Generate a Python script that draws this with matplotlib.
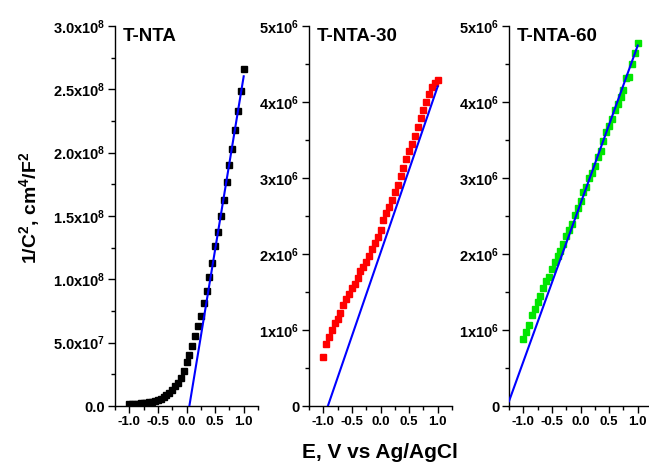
import numpy as np
import matplotlib
matplotlib.use("Agg")
import matplotlib.pyplot as plt
from matplotlib.ticker import MultipleLocator

plt.rcParams["font.family"] = ["Liberation Sans", "DejaVu Sans"]
plt.rcParams["font.weight"] = "bold"
plt.rcParams["mathtext.fontset"] = "custom"
plt.rcParams["mathtext.rm"] = "Liberation Sans:bold"
plt.rcParams["mathtext.default"] = "rm"

# potential (V vs Ag/AgCl), same for all three samples
potential = np.round(np.arange(-1.0, 1.0001, 0.05), 2)

# 1/C^2 values
tnta = [0.013, 0.015, 0.017, 0.019, 0.021, 0.024, 0.027, 0.031, 0.035, 0.041,
        0.048, 0.058, 0.070, 0.085, 0.105, 0.126, 0.155, 0.185, 0.225, 0.280,
        0.345, 0.405, 0.470, 0.550, 0.630, 0.710, 0.810, 0.910, 1.020, 1.130,
        1.260, 1.375, 1.500, 1.630, 1.770, 1.900, 2.030, 2.180, 2.330, 2.490,
        2.660]
tnta = [v * 1e8 for v in tnta]
tnta_30 = [0.65, 0.82, 0.91, 1.00, 1.09, 1.15, 1.23, 1.33, 1.41, 1.48,
           1.55, 1.61, 1.68, 1.77, 1.83, 1.90, 1.97, 2.07, 2.14, 2.23,
           2.32, 2.45, 2.54, 2.62, 2.71, 2.81, 2.91, 3.02, 3.13, 3.25,
           3.35, 3.45, 3.55, 3.67, 3.79, 3.89, 4.00, 4.10, 4.20, 4.25, 4.29]
tnta_30 = [v * 1e6 for v in tnta_30]
tnta_60 = [0.88, 0.97, 1.07, 1.20, 1.27, 1.37, 1.45, 1.55, 1.64, 1.70,
           1.80, 1.90, 1.97, 2.04, 2.13, 2.24, 2.31, 2.40, 2.51, 2.60,
           2.70, 2.81, 2.88, 3.00, 3.06, 3.16, 3.28, 3.35, 3.49, 3.61,
           3.68, 3.77, 3.90, 3.97, 4.07, 4.16, 4.31, 4.33, 4.50, 4.64, 4.77]
tnta_60 = [v * 1e6 for v in tnta_60]

# Mott-Schottky linear fits: (slope, x-intercept, fit start, fit end)
fits = [(2.74e8, 0.05, 0.05, 1.0),
        (2.19e6, -0.92, -0.92, 1.0),
        (2.08e6, -1.28, -1.25, 1.0)]

names = ["T-NTA", "T-NTA-30", "T-NTA-60"]
colors = ["black", "#ff0000", "#00e600"]
ymax = [3.0e8, 5e6, 5e6]
ystep = [5e7, 1e6, 1e6]
ytick_labels = [["0.0", "5.0x10$^{7}$", "1.0x10$^{8}$", "1.5x10$^{8}$",
                 "2.0x10$^{8}$", "2.5x10$^{8}$", "3.0x10$^{8}$"],
                ["0", "1x10$^{6}$", "2x10$^{6}$", "3x10$^{6}$", "4x10$^{6}$", "5x10$^{6}$"],
                ["0", "1x10$^{6}$", "2x10$^{6}$", "3x10$^{6}$", "4x10$^{6}$", "5x10$^{6}$"]]
xtick_labels = ["-1.0", "-0.5", "0.0", "0.5", "1.0"]

fig = plt.figure(figsize=(6.49, 4.73), dpi=100)
lefts = [115 / 649, 309 / 649, 509 / 649]
series = [tnta, tnta_30, tnta_60]

for i in range(3):
    ax = fig.add_axes([lefts[i], 67 / 473, 143 / 649, 380 / 473])
    ax.plot(potential, series[i], "s", color=colors[i], markersize=4.8, zorder=2)
    slope, x0, xa, xb = fits[i]
    xx = np.array([xa, xb])
    ax.plot(xx, slope * (xx - x0), color="#0000ff", lw=1.5, zorder=3)

    ax.set_xlim(-1.25, 1.25)
    ax.set_ylim(0, ymax[i])
    ax.spines["right"].set_visible(False)
    ax.spines["top"].set_visible(False)
    ax.spines["left"].set_linewidth(1.0)
    ax.spines["bottom"].set_linewidth(1.0)

    ax.set_xticks([-1.0, -0.5, 0.0, 0.5, 1.0])
    ax.set_xticklabels(xtick_labels)
    ax.xaxis.set_minor_locator(MultipleLocator(0.25))
    ax.set_yticks(np.arange(len(ytick_labels[i])) * ystep[i])
    ax.set_yticklabels(ytick_labels[i])
    ax.yaxis.set_minor_locator(MultipleLocator(ystep[i] / 2))
    ax.tick_params(which="major", length=5, width=1, labelsize=9.5, pad=2)
    ax.tick_params(axis="y", which="major", labelsize=10.5)
    ax.tick_params(which="minor", length=3, width=1)
    for lab in ax.get_xticklabels() + ax.get_yticklabels():
        lab.set_fontweight("bold")

    ax.text(0.056, 0.972, names[i], transform=ax.transAxes, fontsize=13.5,
            fontweight="bold", va="center", ha="left")

fig.text(30 / 649, 1 - 208 / 473, "1/C$^{2}$, cm$^{4}$/F$^{2}$", rotation=90,
         fontsize=14, fontweight="bold", ha="center", va="center")
fig.text(380 / 649, 1 - 452 / 473, "E, V vs Ag/AgCl", fontsize=15,
         fontweight="bold", ha="center", va="center")

fig.savefig("out.png", dpi=100)
